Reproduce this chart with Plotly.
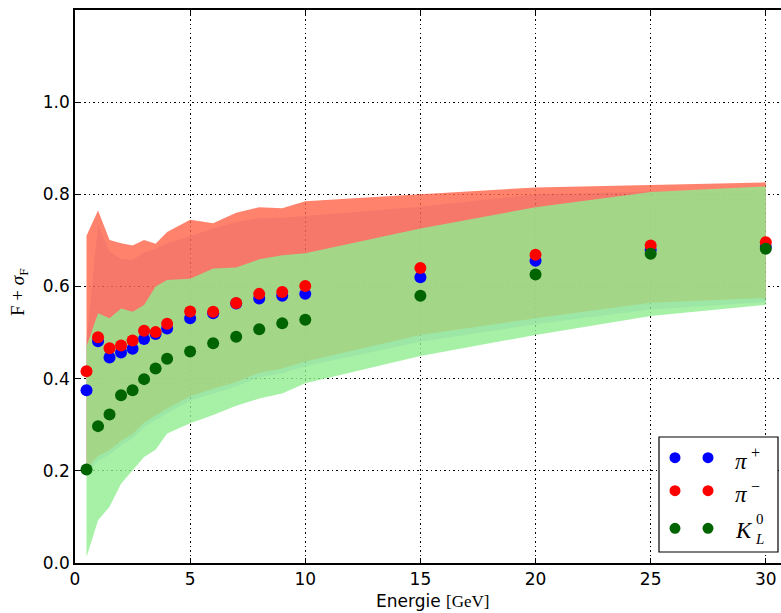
import plotly.graph_objects as go

# ---------------- data ----------------
energy = [0.5, 1, 1.5, 2, 2.5, 3, 3.5, 4, 5, 6, 7, 8, 9, 10, 15, 20, 25, 30]

pi_plus = [0.375, 0.481, 0.446, 0.457, 0.465, 0.486, 0.497, 0.509, 0.531, 0.542,
           0.563, 0.574, 0.580, 0.584, 0.620, 0.656, 0.679, 0.686]
pi_minus = [0.416, 0.490, 0.466, 0.472, 0.483, 0.504, 0.501, 0.519, 0.546, 0.545,
            0.564, 0.584, 0.588, 0.601, 0.640, 0.669, 0.689, 0.696]
k_long = [0.203, 0.297, 0.322, 0.364, 0.375, 0.399, 0.422, 0.443, 0.459, 0.477,
          0.491, 0.507, 0.520, 0.528, 0.580, 0.626, 0.671, 0.682]

# bands (lower / upper)
pi_plus_low = [0.196, 0.222, 0.236, 0.255, 0.270, 0.295, 0.310, 0.325, 0.352, 0.368,
               0.383, 0.403, 0.412, 0.427, 0.480, 0.518, 0.550, 0.566]
pi_plus_up = [0.480, 0.734, 0.676, 0.660, 0.658, 0.674, 0.682, 0.694, 0.709, 0.726,
              0.740, 0.748, 0.749, 0.753, 0.773, 0.800, 0.806, 0.810]
pi_minus_low = [0.205, 0.232, 0.245, 0.265, 0.280, 0.305, 0.320, 0.335, 0.362, 0.378,
                0.393, 0.413, 0.422, 0.437, 0.495, 0.531, 0.565, 0.575]
pi_minus_up = [0.710, 0.765, 0.701, 0.694, 0.689, 0.701, 0.693, 0.718, 0.745, 0.737,
               0.760, 0.772, 0.770, 0.785, 0.800, 0.815, 0.820, 0.826]
k_long_low = [0.013, 0.093, 0.122, 0.172, 0.201, 0.230, 0.246, 0.281, 0.303, 0.321,
              0.341, 0.357, 0.368, 0.390, 0.449, 0.495, 0.536, 0.560]
k_long_up = [0.470, 0.542, 0.531, 0.552, 0.545, 0.560, 0.600, 0.614, 0.617, 0.639,
             0.641, 0.659, 0.668, 0.672, 0.726, 0.772, 0.805, 0.817]

x_ticks = [0, 5, 10, 15, 20, 25, 30]
y_ticks = [0.0, 0.2, 0.4, 0.6, 0.8, 1.0]
y_tick_labels = ["0.0", "0.2", "0.4", "0.6", "0.8", "1.0"]

# ---------------- figure ----------------
W, H = 781, 613
ML, MR, MT, MB = 75, 0, 10, 50
PW, PH = W - ML - MR, H - MT - MB


def px_x(p):
    return (p - ML) / PW


def px_y(p):
    return (H - MB - p) / PH


fig = go.Figure()


def band(low, up, color):
    fig.add_trace(go.Scatter(
        x=energy + energy[::-1], y=up + low[::-1],
        fill="toself", fillcolor=color, mode="lines",
        line=dict(width=0), hoverinfo="skip", showlegend=False))


band(pi_plus_low, pi_plus_up, "rgba(60,60,230,0.26)")
band(pi_minus_low, pi_minus_up, "rgba(255,99,71,0.80)")
band(k_long_low, k_long_up, "rgba(144,238,144,0.80)")

for vals, col, name in [(pi_plus, "#0000ff", "π+"), (pi_minus, "#ff0000", "π-"),
                        (k_long, "#006400", "K0L")]:
    fig.add_trace(go.Scatter(x=energy, y=vals, mode="markers", name=name,
                             marker=dict(color=col, size=12, line=dict(width=0)),
                             showlegend=False))

axis_common = dict(
    showline=True, linecolor="black", linewidth=1.5,
    ticks="inside", ticklen=5, tickwidth=1, tickcolor="black",
    showgrid=True, gridcolor="black", gridwidth=1, griddash="1.5px,3px",
    zeroline=False, tickfont=dict(family="DejaVu Sans", size=17, color="black"),
)

fig.update_xaxes(range=[0, 30.66], tickvals=x_ticks, mirror="ticks", **axis_common)
fig.update_yaxes(range=[0, 1.2], tickvals=y_ticks, ticktext=y_tick_labels,
                 mirror=False, **axis_common)

# custom legend (matplotlib-like, two points per entry)
shapes = [dict(type="rect", xref="paper", yref="paper",
               x0=px_x(659), x1=px_x(778), y0=px_y(552), y1=px_y(437),
               line=dict(color="black", width=1.2), fillcolor="white", layer="above")]
rows = [(457.7, "#0000ff"), (490.7, "#ff0000"), (528.3, "#006400")]
for ry, col in rows:
    for rx in (675, 708):
        shapes.append(dict(type="circle", xref="paper", yref="paper",
                           xsizemode="pixel", ysizemode="pixel",
                           xanchor=px_x(rx), yanchor=px_y(ry),
                           x0=-5.5, x1=5.5, y0=-5.5, y1=5.5,
                           line=dict(width=0), fillcolor=col, layer="above"))

serif = "Liberation Serif"
annotations = [
    dict(text="<i>π</i>", x=px_x(733), y=px_y(461), xref="paper", yref="paper",
         xanchor="left", yanchor="middle", showarrow=False,
         font=dict(family=serif, size=23, color="black")),
    dict(text="+", x=px_x(749), y=px_y(452), xref="paper", yref="paper",
         xanchor="left", yanchor="middle", showarrow=False,
         font=dict(family=serif, size=16, color="black")),
    dict(text="<i>π</i>", x=px_x(733), y=px_y(494), xref="paper", yref="paper",
         xanchor="left", yanchor="middle", showarrow=False,
         font=dict(family=serif, size=23, color="black")),
    dict(text="−", x=px_x(749), y=px_y(486), xref="paper", yref="paper",
         xanchor="left", yanchor="middle", showarrow=False,
         font=dict(family=serif, size=16, color="black")),
    dict(text="<i>K</i>", x=px_x(733), y=px_y(530), xref="paper", yref="paper",
         xanchor="left", yanchor="middle", showarrow=False,
         font=dict(family=serif, size=23, color="black")),
    dict(text="0", x=px_x(754), y=px_y(519), xref="paper", yref="paper",
         xanchor="left", yanchor="middle", showarrow=False,
         font=dict(family=serif, size=15, color="black")),
    dict(text="<i>L</i>", x=px_x(753), y=px_y(539), xref="paper", yref="paper",
         xanchor="left", yanchor="middle", showarrow=False,
         font=dict(family=serif, size=15, color="black")),
    # axis titles
    dict(text="F + <i>σ</i><sub>F</sub>", x=px_x(19), y=px_y(292), xref="paper", yref="paper",
         xanchor="center", yanchor="middle", textangle=-90, showarrow=False,
         font=dict(family=serif, size=19, color="black")),
    dict(text="Energie <span style='font-family:Liberation Serif'>[GeV]</span>",
         x=px_x(432), y=px_y(601), xref="paper", yref="paper",
         xanchor="center", yanchor="middle", showarrow=False,
         font=dict(family="DejaVu Sans", size=17, color="black")),
]

fig.update_layout(
    width=W, height=H, margin=dict(l=ML, r=MR, t=MT, b=MB),
    paper_bgcolor="white", plot_bgcolor="white",
    showlegend=False, shapes=shapes, annotations=annotations,
)

fig.write_html("out.html")
